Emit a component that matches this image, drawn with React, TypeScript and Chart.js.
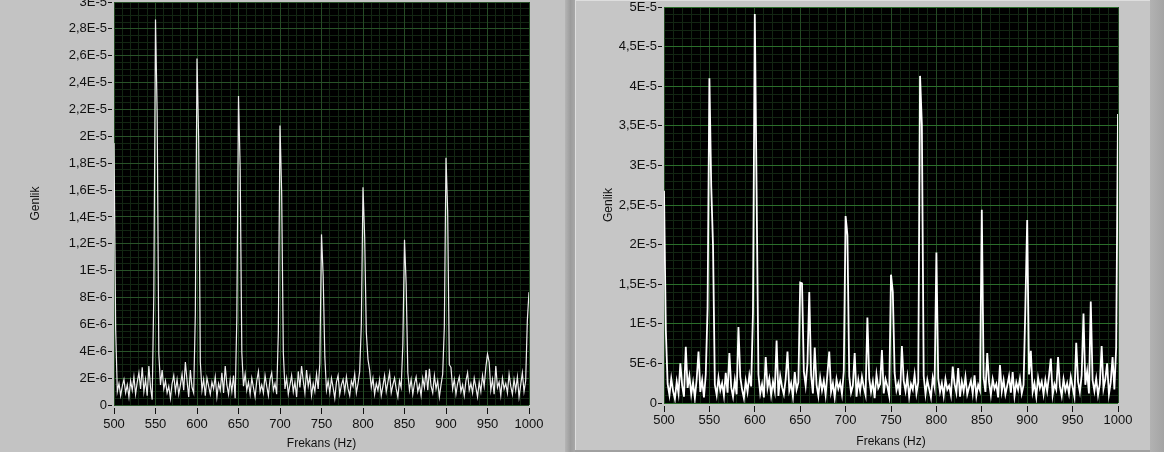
import React, { useEffect, useRef } from 'react';
import { Chart, registerables } from 'chart.js';

Chart.register(...registerables);

// Frequency grid of both spectra (Hz)
const FREQ_START = 500;
const FREQ_STEP = 2;
const X_MIN = 500;
const X_MAX = 1000;
const X_TICK_STEP = 50;
const X_MINOR_STEP = 10;

// Left spectrum amplitude, in units of 1E-6 (one value per 2 Hz from 500 to 1000 Hz)
const leftAmplitude = [
  19.5, 5.6, 1.0, 1.6, 0.7, 1.4, 1.9, 0.9, 1.5, 0.6,
  1.8, 1.1, 2.1, 0.8, 1.7, 2.4, 1.2, 2.8, 1.0, 1.9,
  0.7, 2.9, 1.3, 0.4, 8.4, 28.7, 21.7, 3.8, 1.5, 2.6,
  1.2, 1.8, 0.9, 1.4, 0.5, 1.6, 2.2, 1.0, 1.9, 0.8,
  1.5, 2.3, 1.1, 3.2, 1.8, 0.6, 2.6, 1.3, 0.9, 6.8,
  25.8, 19.8, 3.2, 1.1, 1.9, 0.7, 2.0, 1.4, 0.8, 1.7,
  1.2, 2.1, 0.6, 1.6, 1.1, 2.4, 0.9, 2.9, 1.5, 0.8,
  1.9, 1.0, 2.2, 0.5, 6.5, 23.0, 17.6, 3.9, 1.4, 2.3,
  1.1, 1.7, 0.8, 2.0, 1.3, 0.6, 1.8, 2.5, 1.0, 1.5,
  0.9, 2.2, 1.4, 0.7, 1.9, 2.4, 1.1, 1.6, 0.8, 5.4,
  20.8, 15.8, 3.9, 1.2, 2.0, 0.8, 1.5, 2.2, 1.0, 1.7,
  0.6, 2.5, 1.3, 2.9, 1.8, 0.9, 2.6, 1.4, 2.1, 0.7,
  1.6, 1.0, 2.3, 1.2, 3.1, 12.7, 9.6, 3.6, 1.1, 1.8,
  0.9, 2.0, 1.3, 0.5, 1.7, 2.2, 0.8, 1.5, 1.9, 1.0,
  2.1, 1.2, 0.7, 1.8, 1.4, 2.3, 0.9, 1.6, 2.5, 6.0,
  16.2, 12.5, 5.4, 3.4, 2.6, 1.3, 2.0, 0.8, 1.6, 1.1,
  1.9, 0.7, 1.4, 2.2, 1.0, 1.7, 2.4, 0.9, 1.5, 2.0,
  1.2, 0.6, 1.8, 1.3, 4.5, 12.3, 9.0, 2.4, 1.1, 1.9,
  0.8, 1.6, 2.1, 1.0, 1.5, 0.7, 2.0, 1.3, 2.6, 1.1,
  2.7, 1.4, 0.9, 2.2, 1.2, 1.8, 0.6, 1.5, 2.3, 5.8,
  18.4, 14.4, 3.0, 2.8, 1.2, 1.9, 0.8, 1.6, 2.1, 1.0,
  1.5, 0.7, 1.8, 2.4, 1.1, 1.6, 0.9, 2.0, 1.3, 0.6,
  1.7, 1.0, 2.2, 1.4, 2.8, 3.8, 3.2, 1.1, 1.9, 0.8,
  2.9, 1.3, 1.7, 0.7, 2.0, 1.2, 1.6, 0.9, 2.3, 1.4,
  0.8, 1.9, 1.1, 2.1, 0.6, 1.5, 2.4, 1.0, 1.8, 6.3,
  8.4,
];

// Right spectrum amplitude, in units of 1E-6 (one value per 2 Hz from 500 to 1000 Hz)
const rightAmplitude = [
  26.8, 9.2, 2.4, 1.0, 3.1, 1.5, 0.5, 2.7, 1.2, 5.0,
  2.2, 0.8, 7.1, 1.9, 3.4, 1.1, 2.6, 0.6, 3.0, 6.5,
  1.4, 2.9, 0.7, 3.6, 12.0, 41.0, 27.4, 19.8, 2.3, 1.0,
  3.2, 1.6, 2.5, 0.9, 3.8, 1.3, 6.3, 2.0, 0.8, 2.9,
  1.1, 9.6, 3.3, 1.7, 0.6, 2.8, 1.4, 3.5, 2.1, 11.5,
  49.1, 26.5, 3.6, 1.2, 2.4, 0.7, 5.8, 1.9, 3.1, 1.0,
  2.7, 1.5, 7.9, 0.9, 3.4, 2.0, 1.1, 3.0, 6.5, 1.6,
  2.5, 0.8, 3.9, 1.7, 2.6, 15.2, 15.1, 4.0, 2.2, 5.0,
  14.0, 3.5, 1.2, 7.0, 2.3, 0.9, 3.2, 1.6, 2.8, 1.0,
  3.7, 6.5, 1.4, 2.5, 0.7, 3.0, 1.8, 2.6, 1.1, 4.0,
  23.6, 21.2, 3.4, 1.3, 2.2, 6.3, 0.8, 2.9, 1.5, 3.3,
  2.0, 1.0, 10.8, 3.1, 1.4, 2.7, 0.6, 3.6, 1.9, 2.4,
  6.7, 1.2, 3.0, 2.1, 0.9, 16.2, 14.0, 3.8, 1.6, 2.5,
  1.0, 7.2, 2.8, 1.5, 3.3, 0.8, 2.4, 1.7, 3.6, 1.2,
  2.6, 41.3, 35.1, 3.4, 1.1, 2.9, 1.8, 0.7, 3.2, 2.0,
  19.0, 3.1, 1.4, 2.5, 0.9, 3.0, 1.7, 2.2, 1.0, 4.6,
  2.4, 1.3, 4.4, 0.8, 2.7, 1.5, 3.3, 1.1, 2.0, 2.8,
  1.2, 3.5, 0.9, 2.3, 1.6, 24.4, 3.2, 1.4, 6.3, 2.6,
  1.0, 3.0, 1.8, 2.4, 0.7, 4.8, 1.5, 2.9, 1.1, 2.2,
  3.4, 1.3, 3.9, 0.9, 2.6, 1.7, 3.1, 1.2, 2.3, 12.2,
  23.1, 3.6, 6.6, 1.4, 2.5, 0.8, 3.2, 1.9, 2.7, 1.1,
  2.9, 1.5, 3.4, 5.6, 1.0, 2.4, 1.7, 5.8, 2.1, 0.9,
  3.0, 1.6, 2.5, 1.2, 3.3, 2.0, 0.8, 7.6, 2.7, 1.4,
  3.5, 11.3, 2.3, 4.0, 1.2, 12.8, 2.9, 1.5, 3.1, 1.0,
  2.4, 7.2, 1.8, 3.0, 5.0, 1.1, 2.6, 5.8, 1.7, 7.0,
  36.5,
];

const X_TITLE = 'Frekans (Hz)';
const Y_TITLE = 'Genlik';

const FONT = '"Liberation Sans", Arial, Helvetica, sans-serif';

// value in units of 1E-6 -> LabVIEW style label, e.g. 28 -> "2,8E-5"
function formatAmp(v: number): string {
  if (Math.abs(v) < 1e-9) return '0';
  const e = Math.floor(Math.log10(Math.abs(v)) + 1e-9);
  const m = Math.round((v / Math.pow(10, e)) * 10) / 10;
  return String(m).replace('.', ',') + 'E' + (e - 6);
}

const plotBackground = {
  id: 'plotBackground',
  beforeDraw(chart: any) {
    const { ctx, chartArea } = chart;
    if (!chartArea) return;
    ctx.save();
    ctx.fillStyle = '#000000';
    ctx.fillRect(chartArea.left, chartArea.top, chartArea.right - chartArea.left, chartArea.bottom - chartArea.top);
    ctx.restore();
  },
};

interface SpectrumProps {
  amplitudes: number[];
  yMax: number;
  yStep: number;
  yMinorStep: number;
  width: number;
  height: number;
  yAxisWidth: number;
  xAxisHeight: number;
  padTop: number;
  padRight: number;
  yTitlePad: number;
  xTitlePad: number;
  xTickPad: number;
  majorH: string;
  majorV: string;
  minor: string;
  lineWidth: number;
  lineColor: string;
}

function SpectrumChart(p: SpectrumProps) {
  const ref = useRef<HTMLCanvasElement>(null);
  useEffect(() => {
    if (!ref.current) return;
    const points = p.amplitudes.map((a, i) => ({ x: FREQ_START + i * FREQ_STEP, y: a }));
    const chart = new Chart(ref.current, {
      type: 'line',
      data: {
        datasets: [
          {
            data: points,
            xAxisID: 'x',
            yAxisID: 'y',
            borderColor: p.lineColor,
            borderWidth: p.lineWidth,
            pointRadius: 0,
            tension: 0,
            fill: false,
          } as any,
        ],
      },
      options: {
        animation: false,
        responsive: false,
        maintainAspectRatio: false,
        events: [],
        layout: { padding: { top: p.padTop, right: p.padRight, left: 0, bottom: 0 } },
        plugins: { legend: { display: false }, tooltip: { enabled: false }, title: { display: false } },
        scales: {
          x: {
            type: 'linear',
            axis: 'x',
            position: 'bottom',
            min: X_MIN,
            max: X_MAX,
            afterFit: (s: any) => {
              s.height = p.xAxisHeight;
              s.paddingLeft = 0;
              s.paddingRight = 0;
            },
            ticks: {
              stepSize: X_TICK_STEP,
              maxTicksLimit: 1000,
              autoSkip: false,
              maxRotation: 0,
              minRotation: 0,
              padding: p.xTickPad,
              color: '#111111',
              font: { family: FONT, size: 13 },
              callback: (v: any) => String(v),
            },
            grid: {
              color: p.majorV,
              lineWidth: 1,
              drawTicks: true,
              tickLength: 9,
              tickColor: '#111111',
              tickWidth: 1,
              tickBorderDash: [0, 3, 6, 20],
            },
            border: { display: false },
            title: {
              display: true,
              text: X_TITLE,
              color: '#111111',
              font: { family: FONT, size: 12 },
              padding: { top: 0, bottom: p.xTitlePad },
            },
          },
          y: {
            type: 'linear',
            axis: 'y',
            position: 'left',
            min: 0,
            max: p.yMax,
            afterFit: (s: any) => {
              s.width = p.yAxisWidth;
              s.paddingTop = 0;
              s.paddingBottom = 0;
            },
            ticks: {
              stepSize: p.yStep,
              maxTicksLimit: 1000,
              autoSkip: false,
              padding: 1,
              color: '#111111',
              font: { family: FONT, size: 13 },
              callback: (v: any) => formatAmp(Number(v)),
            },
            grid: {
              color: p.majorH,
              lineWidth: 1,
              drawTicks: true,
              tickLength: 6,
              tickColor: '#111111',
              tickWidth: 1,
              tickBorderDash: [4, 10],
            },
            border: { display: false },
            title: {
              display: true,
              text: Y_TITLE,
              color: '#111111',
              font: { family: FONT, size: 12 },
              padding: { top: p.yTitlePad, bottom: 0 },
            },
          },
          xMinor: {
            type: 'linear',
            axis: 'x',
            position: 'bottom',
            min: X_MIN,
            max: X_MAX,
            afterFit: (s: any) => {
              s.height = 0;
              s.paddingLeft = 0;
              s.paddingRight = 0;
            },
            ticks: { display: false, stepSize: X_MINOR_STEP, maxTicksLimit: 1000 },
            grid: { color: p.minor, lineWidth: 1, drawTicks: false, z: -2 },
            border: { display: false },
          },
          yMinor: {
            type: 'linear',
            axis: 'y',
            position: 'left',
            min: 0,
            max: p.yMax,
            afterFit: (s: any) => {
              s.width = 0;
              s.paddingTop = 0;
              s.paddingBottom = 0;
            },
            ticks: { display: false, stepSize: p.yMinorStep, maxTicksLimit: 1000 },
            grid: { color: p.minor, lineWidth: 1, drawTicks: false, z: -2 },
            border: { display: false },
          },
        } as any,
      },
      plugins: [plotBackground],
    });
    return () => chart.destroy();
  }, []);
  return (
    <canvas
      ref={ref}
      width={p.width}
      height={p.height}
      style={{ position: 'absolute', left: 0, top: 0, width: p.width, height: p.height, display: 'block' }}
    />
  );
}

export default function App() {
  return (
    <div
      style={{
        position: 'fixed',
        left: 0,
        top: 0,
        width: 1164,
        height: 457,
        background: '#ffffff',
        overflow: 'hidden',
      }}
    >
      <div style={{ position: 'absolute', left: 0, top: 0, width: 565, height: 452, background: '#c3c3c3' }}>
        <SpectrumChart
          amplitudes={leftAmplitude}
          yMax={30}
          yStep={2}
          yMinorStep={0.5}
          width={565}
          height={452}
          yAxisWidth={114}
          xAxisHeight={47}
          padTop={2}
          padRight={36}
          yTitlePad={28}
          xTitlePad={1}
          xTickPad={3}
          majorH="#285228"
          majorV="#254b25"
          minor="#132613"
          lineWidth={1.2}
          lineColor="#eeeeee"
        />
      </div>
      <div
        style={{
          position: 'absolute',
          left: 565,
          top: 0,
          width: 10,
          height: 452,
          background: 'linear-gradient(to right, #b5b5b5, #9c9c9c 55%, #a8a8a8)',
        }}
      />
      <div
        style={{
          position: 'absolute',
          left: 575,
          top: 0,
          width: 575,
          height: 450,
          background: '#c6c6c6',
          boxShadow: 'inset 1px 1px 0 #dedede',
        }}
      >
        <SpectrumChart
          amplitudes={rightAmplitude}
          yMax={50}
          yStep={5}
          yMinorStep={1}
          width={575}
          height={452}
          yAxisWidth={89}
          xAxisHeight={49}
          padTop={7}
          padRight={32}
          yTitlePad={26}
          xTitlePad={3}
          xTickPad={1}
          majorH="#2b6e2b"
          majorV="#244a24"
          minor="#132613"
          lineWidth={1.8}
          lineColor="#ffffff"
        />
      </div>
      <div style={{ position: 'absolute', left: 575, top: 450, width: 589, height: 2, background: '#a0a0a0' }} />
      <div
        style={{
          position: 'absolute',
          left: 1150,
          top: 0,
          width: 14,
          height: 452,
          background: 'linear-gradient(to right, #b2b2b2, #a4a4a4)',
        }}
      />
    </div>
  );
}
